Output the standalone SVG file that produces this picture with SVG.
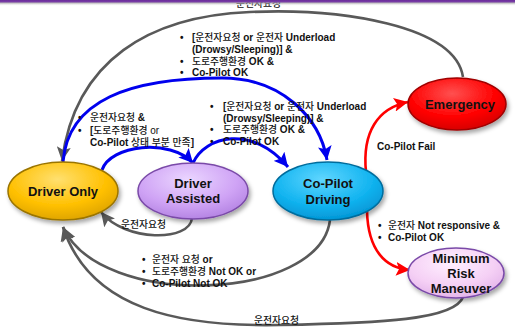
<svg xmlns="http://www.w3.org/2000/svg" width="515" height="328" viewBox="0 0 515 328">
<style>
.t{font-family:"Liberation Sans","Noto Sans CJK KR",sans-serif;font-size:10px;font-weight:bold;fill:#111}
.k{font-weight:500;font-size:9.8px}
.n{font-family:"Liberation Sans","Noto Sans CJK KR",sans-serif;font-size:13px;font-weight:bold;fill:#111;text-anchor:middle}
.g{fill:none;stroke:#595959;stroke-width:2.6}
.b{fill:none;stroke:#0000EE;stroke-width:3}
.r{fill:none;stroke:#FF0000;stroke-width:2.6}
</style>
<defs>
<linearGradient id="bar" x1="0" y1="0" x2="0" y2="1"><stop offset="0" stop-color="#6A2C9A"/><stop offset="0.35" stop-color="#7B3FA8"/><stop offset="0.5" stop-color="#9a9a9a" stop-opacity="0.7"/><stop offset="1" stop-color="#ffffff" stop-opacity="0"/></linearGradient>
<radialGradient id="gY" cx="0.45" cy="0.3" r="0.75"><stop offset="0" stop-color="#FFE070"/><stop offset="0.6" stop-color="#FFC000"/><stop offset="1" stop-color="#D9A000"/></radialGradient>
<radialGradient id="gP" cx="0.45" cy="0.3" r="0.75"><stop offset="0" stop-color="#EBD6FF"/><stop offset="0.6" stop-color="#CFA3F5"/><stop offset="1" stop-color="#B07FE0"/></radialGradient>
<radialGradient id="gB" cx="0.45" cy="0.3" r="0.75"><stop offset="0" stop-color="#60D6FF"/><stop offset="0.6" stop-color="#12B4F0"/><stop offset="1" stop-color="#0090D0"/></radialGradient>
<radialGradient id="gR" cx="0.45" cy="0.3" r="0.75"><stop offset="0" stop-color="#FF5050"/><stop offset="0.6" stop-color="#FF0000"/><stop offset="1" stop-color="#D00000"/></radialGradient>
<radialGradient id="gM" cx="0.45" cy="0.3" r="0.75"><stop offset="0" stop-color="#FFF0FF"/><stop offset="0.6" stop-color="#F5D0F5"/><stop offset="1" stop-color="#E0B0E8"/></radialGradient>
<filter id="sh" x="-20%" y="-20%" width="140%" height="150%"><feDropShadow dx="2" dy="3" stdDeviation="2" flood-color="#000" flood-opacity="0.35"/></filter>
<marker id="ag" markerUnits="userSpaceOnUse" markerWidth="16" markerHeight="14" refX="14" refY="7" orient="auto"><path d="M0,0 L14,7 L0,14 L3,7 z" fill="#595959"/></marker>
<marker id="ab" markerUnits="userSpaceOnUse" markerWidth="16" markerHeight="14" refX="14" refY="7" orient="auto"><path d="M0,0 L14,7 L0,14 L3,7 z" fill="#0000EE"/></marker>
<marker id="ar" markerUnits="userSpaceOnUse" markerWidth="16" markerHeight="14" refX="14" refY="7" orient="auto"><path d="M0,0 L14,7 L0,14 L3,7 z" fill="#FF0000"/></marker>
</defs>
<rect width="515" height="328" fill="#ffffff"/>
<text class="t" x="236" y="7"><tspan class="k">운전자요청</tspan></text>
<rect x="0" y="0" width="515" height="6" fill="url(#bar)"/>

<g id="connectors">
<path class="g" d="M463,77 C455,25 340,8 250,12 C150,16 75,60 62,161" marker-end="url(#ag)"/>
<path class="b" d="M63,162 C68,100 130,78 222,78 C282,78 320,118 327,160" marker-end="url(#ab)"/>
<path class="b" d="M102,170 C110,145 170,138 193,163" marker-end="url(#ab)"/>
<path class="b" d="M193,163 C205,136 252,124 288,167" marker-end="url(#ab)"/>
<path class="g" d="M192,218 C190,242 125,242 101,212" marker-end="url(#ag)"/>
<path class="g" d="M330,220 C320,302 100,310 63,227" marker-end="url(#ag)"/>
<path class="g" d="M463,297 C455,320 380,323 280,325 C180,327 90,310 63,227" marker-end="url(#ag)"/>
<path class="r" d="M366,172 C362,132 378,108 408,102" marker-end="url(#ar)"/>
<path class="r" d="M367,211 C368,250 385,268 410,270" marker-end="url(#ar)"/>
</g>

<g id="driver-only">
<ellipse cx="63" cy="191" rx="55" ry="29" fill="url(#gY)" stroke="#9A7400" stroke-width="1.5" filter="url(#sh)"/>
<text class="n" x="63" y="195.5">Driver Only</text>
</g>
<g id="driver-assisted">
<ellipse cx="193" cy="191" rx="55" ry="28" fill="url(#gP)" stroke="#7A4AA8" stroke-width="1.5" filter="url(#sh)"/>
<text class="n" x="193" y="187.5">Driver</text>
<text class="n" x="193" y="202.5">Assisted</text>
</g>
<g id="copilot-driving">
<ellipse cx="328" cy="191" rx="55" ry="29" fill="url(#gB)" stroke="#006C9C" stroke-width="1.5" filter="url(#sh)"/>
<text class="n" x="328" y="187.5">Co-Pilot</text>
<text class="n" x="328" y="203.5">Driving</text>
</g>
<g id="emergency">
<ellipse cx="457" cy="104" rx="49" ry="26" fill="url(#gR)" stroke="#A00000" stroke-width="1.5" filter="url(#sh)"/>
<text class="n" x="460" y="108.5">Emergency</text>
</g>
<g id="minimum-risk-maneuver">
<ellipse cx="456" cy="273" rx="48" ry="25" fill="url(#gM)" stroke="#7A4AA8" stroke-width="1.5" filter="url(#sh)"/>
<text class="n" x="461" y="262.5">Minimum</text>
<text class="n" x="461" y="277.5">Risk</text>
<text class="n" x="461" y="293">Maneuver</text>
</g>

<g id="labels">
<text class="t" x="180" y="41">•</text>
<text class="t" x="192" y="41">[<tspan class="k">운전자요청</tspan> or <tspan class="k">운전자</tspan> Underload</text>
<text class="t" x="192" y="53">(Drowsy/Sleeping)] &amp;</text>
<text class="t" x="180" y="64.5">•</text>
<text class="t" x="192" y="64.5"><tspan class="k">도로주행환경</tspan> OK &amp;</text>
<text class="t" x="180" y="75.5">•</text>
<text class="t" x="192" y="75.5">Co-Pilot OK</text>

<text class="t" x="210" y="110">•</text>
<text class="t" x="223" y="110">[<tspan class="k">운전자요청</tspan> or <tspan class="k">운전자</tspan> Underload</text>
<text class="t" x="223" y="121.5">(Drowsy/Sleeping)] &amp;</text>
<text class="t" x="210" y="133">•</text>
<text class="t" x="223" y="133"><tspan class="k">도로주행환경</tspan> OK &amp;</text>
<text class="t" x="210" y="144.5">•</text>
<text class="t" x="223" y="144.5">Co-Pilot OK</text>

<text class="t" x="78" y="121">•</text>
<text class="t" x="90" y="121"><tspan class="k">운전자요청</tspan> &amp;</text>
<text class="t" x="78" y="134">•</text>
<text class="t" x="90" y="134">[<tspan class="k">도로주행환경</tspan> <tspan font-weight="normal">or</tspan></text>
<text class="t" x="90" y="146">Co-Pilot <tspan class="k">상태 부분 만족</tspan>]</text>

<text class="t" x="121" y="228"><tspan class="k">운전자요청</tspan></text>

<text class="t" x="142" y="263">•</text>
<text class="t" x="152" y="263"><tspan class="k">운전자 요청</tspan> or</text>
<text class="t" x="142" y="275">•</text>
<text class="t" x="152" y="275"><tspan class="k">도로주행환경</tspan> Not OK or</text>
<text class="t" x="142" y="286.5">•</text>
<text class="t" x="152" y="286.5">Co-Pilot Not OK</text>

<text class="t" x="254" y="324"><tspan class="k">운전자요청</tspan></text>

<text class="t" x="377" y="150">Co-Pilot Fail</text>

<text class="t" x="378" y="229">•</text>
<text class="t" x="388" y="229"><tspan class="k">운전자</tspan> Not responsive &amp;</text>
<text class="t" x="378" y="241">•</text>
<text class="t" x="388" y="241">Co-Pilot OK</text>
</g>
</svg>
